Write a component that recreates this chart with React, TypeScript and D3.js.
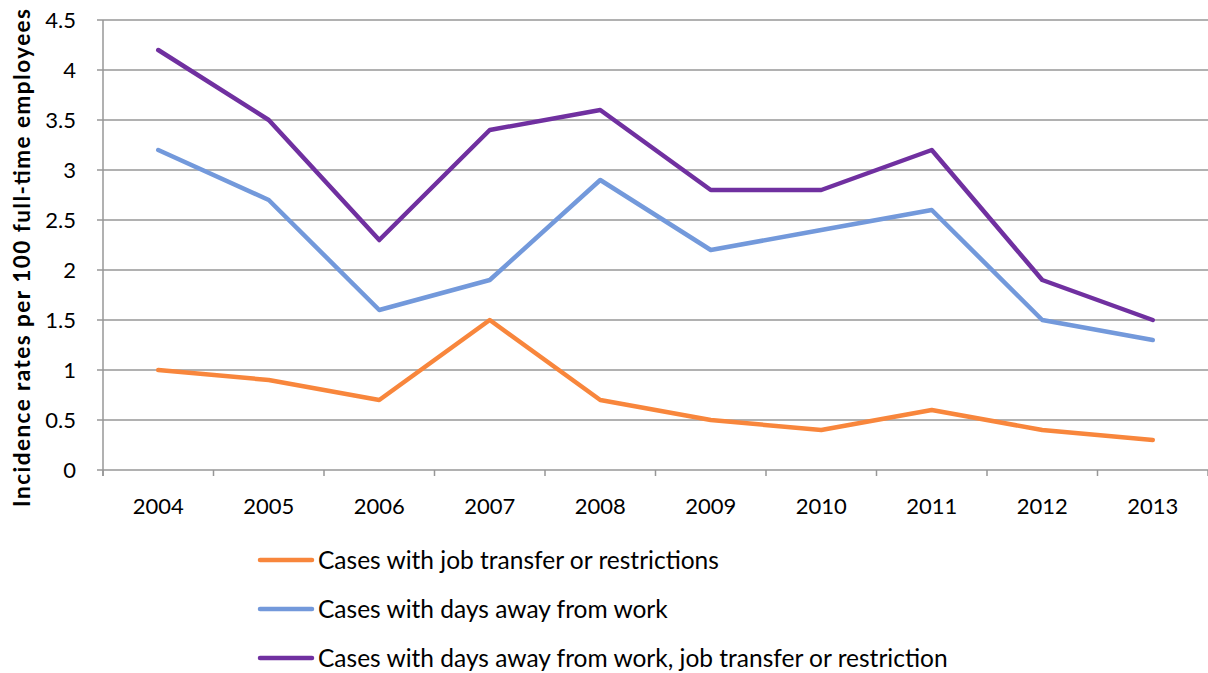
import React from "react";
import * as d3 from "d3";

const years = ["2004", "2005", "2006", "2007", "2008", "2009", "2010", "2011", "2012", "2013"];
const jobTransfer = [1.0, 0.9, 0.7, 1.5, 0.7, 0.5, 0.4, 0.6, 0.4, 0.3];
const daysAway = [3.2, 2.7, 1.6, 1.9, 2.9, 2.2, 2.4, 2.6, 1.5, 1.3];
const combined = [4.2, 3.5, 2.3, 3.4, 3.6, 2.8, 2.8, 3.2, 1.9, 1.5];
const yTicks = [0, 0.5, 1, 1.5, 2, 2.5, 3, 3.5, 4, 4.5];
const seriesNames = [
  "Cases with job transfer or restrictions",
  "Cases with days away from work",
  "Cases with days away from work, job transfer or restriction",
];
const seriesColors = ["#F8863C", "#7399DB", "#7030A0"];

const W = 1208;
const H = 673;
const FONT = "Lato, 'Open Sans', sans-serif";

export default function App() {
  const left = 103;
  const right = 1208;
  const top = 20;
  const bottom = 470;
  const x = d3.scaleBand<string>().domain(years).range([left, right]);
  const y = d3.scaleLinear().domain([0, 4.5]).range([bottom, top]);
  const line = d3
    .line<number>()
    .x((_, i) => (x(years[i]) as number) + x.bandwidth() / 2)
    .y((d) => y(d));
  const series = [jobTransfer, daysAway, combined];
  const boundaries = d3.range(years.length + 1).map((i) => left + i * x.step());

  return (
    <svg
      width={W}
      height={H}
      style={{ position: "absolute", left: 0, top: 0, background: "#fff" }}
      fontFamily={FONT}
    >
      {yTicks.map((t) => (
        <g key={t}>
          <line x1={97} x2={right} y1={y(t)} y2={y(t)} stroke="#979797" strokeWidth={1.5} />
          <text x={76} y={y(t)} dy="0.36em" textAnchor="end" fontSize={22} fill="#000">
            {t}
          </text>
        </g>
      ))}
      <line x1={left} x2={left} y1={top} y2={bottom + 6} stroke="#979797" strokeWidth={1.5} />
      {boundaries.map((b, i) => (
        <line key={i} x1={b} x2={b} y1={bottom} y2={bottom + 6} stroke="#979797" strokeWidth={1.5} />
      ))}
      {years.map((yr) => (
        <text
          key={yr}
          x={(x(yr) as number) + x.bandwidth() / 2}
          y={514}
          textAnchor="middle"
          fontSize={22}
          fill="#000"
        >
          {yr}
        </text>
      ))}
      <text
        transform={`translate(30, 258) rotate(-90)`}
        textAnchor="middle"
        fontSize={22.5}
        fontWeight="bold"
        fill="#000"
        textLength={498}
        lengthAdjust="spacing"
      >
        Incidence rates per 100 full-time employees
      </text>
      {series.map((s, i) => (
        <path
          key={i}
          d={line(s) as string}
          fill="none"
          stroke={seriesColors[i]}
          strokeWidth={4.5}
          strokeLinejoin="round"
          strokeLinecap="round"
        />
      ))}
      {seriesNames.map((n, i) => {
        const ly = 560 + i * 49;
        return (
          <g key={n}>
            <line x1={260} x2={312} y1={ly} y2={ly} stroke={seriesColors[i]} strokeWidth={4.5} strokeLinecap="round" />
            <text x={318} y={ly} dy="0.35em" fontSize={24.5} fill="#000">
              {n}
            </text>
          </g>
        );
      })}
    </svg>
  );
}
